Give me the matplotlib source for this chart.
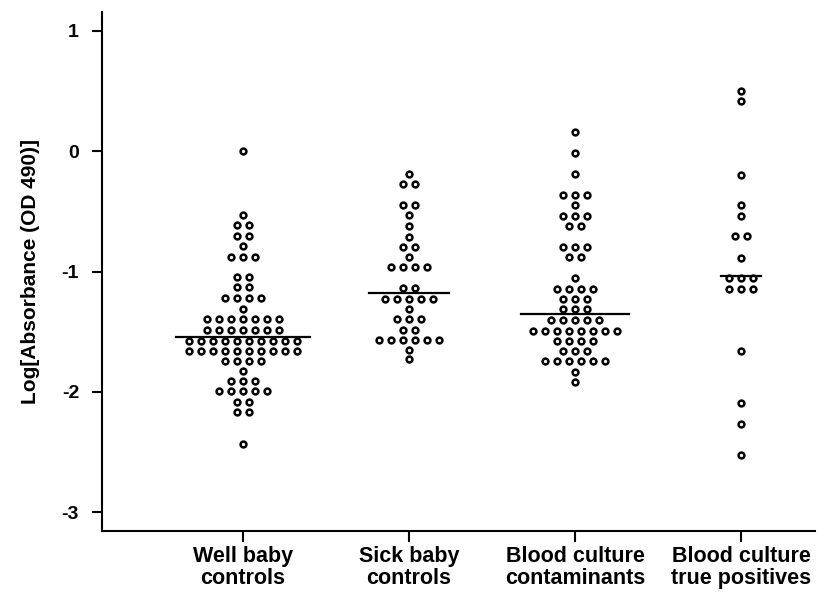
import numpy as np
import matplotlib
matplotlib.use("Agg")
import matplotlib.pyplot as plt

plt.rcParams['font.family'] = ['Liberation Sans', 'DejaVu Sans']

categories = ["Well baby\ncontrols", "Sick baby\ncontrols",
              "Blood culture\ncontaminants", "Blood culture\ntrue positives"]

# rows of the dot plot: value of the row and number of dots in it
well_vals = [0.0, -0.53, -0.617, -0.705, -0.79, -0.878, -1.047, -1.133, -1.22,
             -1.308, -1.394, -1.483, -1.575, -1.66, -1.742, -1.825, -1.908,
             -1.997, -2.086, -2.172, -2.433]
well_cnt = [1, 1, 2, 2, 1, 3, 2, 2, 4, 1, 7, 7, 10, 10, 4, 1, 3, 5, 2, 2, 1]

sick_vals = [-0.186, -0.275, -0.444, -0.533, -0.622, -0.711, -0.797, -0.878,
             -0.964, -1.139, -1.228, -1.311, -1.397, -1.483, -1.569, -1.653,
             -1.728]
sick_cnt = [1, 2, 2, 1, 1, 1, 2, 1, 4, 2, 5, 1, 3, 2, 6, 1, 1]

cont_vals = [0.161, -0.017, -0.189, -0.367, -0.45, -0.539, -0.622, -0.797,
             -0.881, -1.058, -1.144, -1.231, -1.314, -1.403, -1.492, -1.575,
             -1.661, -1.747, -1.833, -1.919]
cont_cnt = [1, 1, 1, 3, 1, 3, 2, 3, 2, 1, 4, 3, 3, 5, 8, 4, 3, 6, 1, 1]

true_vals = [0.503, 0.419, -0.194, -0.45, -0.536, -0.708, -0.886, -1.058,
             -1.144, -1.664, -2.097, -2.272, -2.528]
true_cnt = [1, 1, 1, 1, 1, 2, 1, 3, 3, 1, 1, 1, 1]

medians = [-1.547, -1.181, -1.353, -1.039]

groups = [(well_vals, well_cnt), (sick_vals, sick_cnt),
          (cont_vals, cont_cnt), (true_vals, true_cnt)]

W, H = 817, 593
fig = plt.figure(figsize=(W / 100, H / 100), dpi=100)
ax = fig.add_axes([102 / W, 62 / H, 713 / W, 519 / H])

dx = 0.0723
for i, (vals, cnt) in enumerate(groups):
    xs, ys = [], []
    for v, n in zip(vals, cnt):
        for k in range(n):
            xs.append(i + (k - (n - 1) / 2) * dx)
            ys.append(v)
    ax.plot(xs, ys, 'o', ms=4.2, mfc='white', mec='black', mew=1.8,
            linestyle='none')
    half = max(cnt) * 0.0404
    ax.plot([i - half, i + half], [medians[i], medians[i]], color='black', lw=1.6)

ax.set_xlim(-0.85, 3.445)
ax.set_ylim(-3.158, 1.158)

ax.spines['top'].set_visible(False)
ax.spines['right'].set_visible(False)
ax.spines['left'].set_linewidth(1.5)
ax.spines['bottom'].set_linewidth(1.5)

ax.set_yticks([1, 0, -1, -2, -3])
ax.set_yticklabels(["1", "0", "-1", "-2", "-3"], fontsize=14, fontweight='bold')
ax.tick_params(axis='y', length=7.5, width=1.5, pad=9)

ax.set_xticks(range(4))
ax.set_xticklabels(categories, fontsize=15.5, fontweight='bold', linespacing=1.02)
ax.tick_params(axis='x', length=8, width=1.5, pad=3)

ax.set_ylabel("Log[Absorbance (OD 490)]", fontsize=15, fontweight='bold')
ax.yaxis.set_label_coords((40 - 102) / 713, 0.5)

fig.savefig('out.png', dpi=100)
